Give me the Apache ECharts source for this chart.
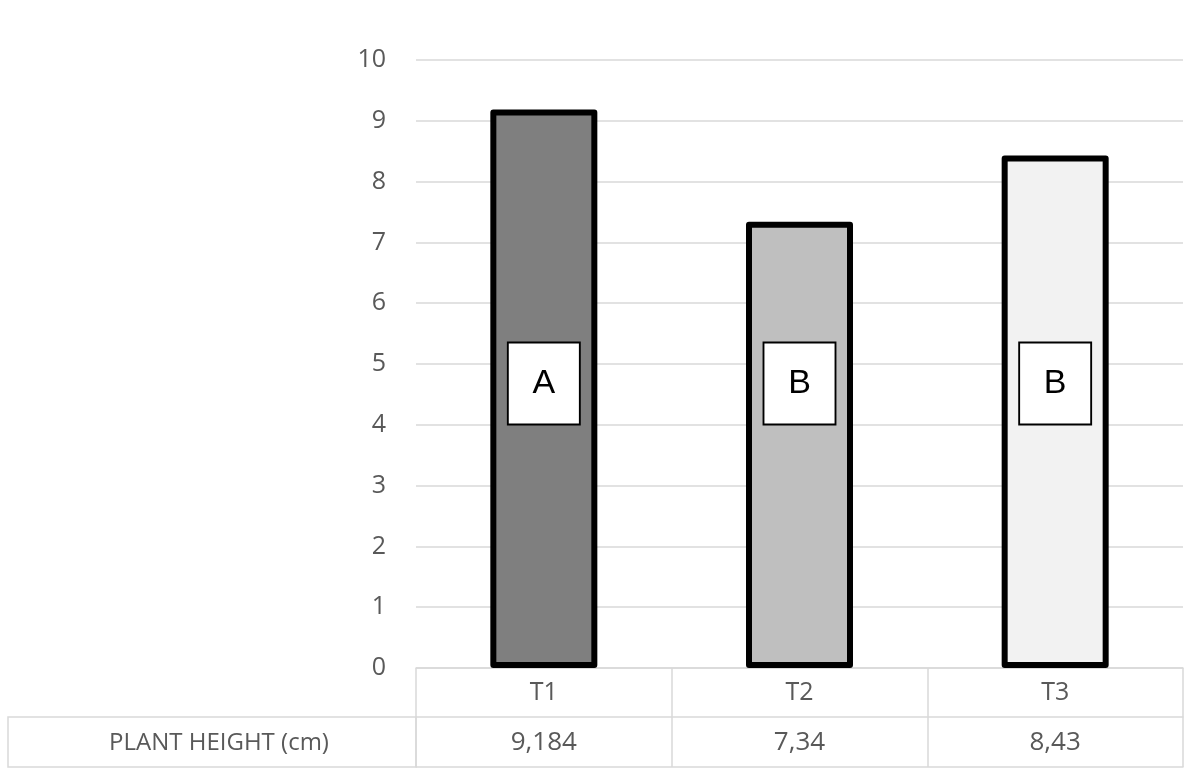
<!DOCTYPE html>
<html>
<head>
<meta charset="utf-8">
<script src="https://cdn.jsdelivr.net/npm/echarts@6/dist/echarts.min.js"></script>
<style>
html,body{margin:0;padding:0;background:#fff;}
#chart{width:1196px;height:776px;}
</style>
</head>
<body>
<div id="chart"></div>
<script>
const categories = ['T1', 'T2', 'T3'];
const plantHeight = [9.184, 7.34, 8.43];
const groupLetters = ['A', 'B', 'B'];
const barColors = ['#7f7f7f', '#bfbfbf', '#f2f2f2'];
const rowLabel = 'PLANT HEIGHT (cm)';
const yTicks = { min: 0, max: 10, interval: 1 };

const LETTER_BOX_Y = 4.68;
const FONT = '"Open Sans", sans-serif';
const TEXT_COLOR = '#595959';
const LINE_COLOR = '#d9d9d9';

const tableValues = plantHeight.map(v => String(v).replace('.', ','));

const chart = echarts.init(document.getElementById('chart'));
chart.setOption({
  animation: false,
  backgroundColor: '#fff',
  grid: { left: 416, right: 13, top: 60, bottom: 108 },
  xAxis: [
    {
      type: 'category', data: categories, position: 'bottom',
      axisLine: { show: true, lineStyle: { color: LINE_COLOR, width: 1.5 } },
      axisTick: { show: true, length: 99, lineStyle: { color: LINE_COLOR, width: 1.5 } },
      axisLabel: { color: TEXT_COLOR, fontFamily: FONT, fontSize: 25, margin: 12 }
    },
    {
      type: 'category', data: tableValues, position: 'bottom', offset: 49,
      axisLine: { show: true, lineStyle: { color: LINE_COLOR, width: 1.5 } },
      axisTick: { show: false },
      axisLabel: { color: TEXT_COLOR, fontFamily: FONT, fontSize: 26, margin: 13 }
    },
    {
      type: 'category', data: categories, position: 'bottom', offset: 99,
      axisLine: { show: true, lineStyle: { color: LINE_COLOR, width: 1.5 } },
      axisTick: { show: false },
      axisLabel: { show: false }
    }
  ],
  yAxis: {
    type: 'value', min: yTicks.min, max: yTicks.max, interval: yTicks.interval,
    axisLine: { show: false }, axisTick: { show: false },
    axisLabel: { color: TEXT_COLOR, fontFamily: FONT, fontSize: 25, margin: 30 },
    splitLine: { lineStyle: { color: LINE_COLOR, width: 1.5 } }
  },
  graphic: [
    {
      type: 'rect', shape: { x: 8, y: 717, width: 408, height: 50 },
      style: { fill: 'none', stroke: LINE_COLOR, lineWidth: 1.5 }, z: 1
    },
    {
      type: 'text', x: 219, y: 743,
      style: { text: rowLabel, fill: TEXT_COLOR, font: '24px "Open Sans", sans-serif', align: 'center', verticalAlign: 'middle' }
    }
  ],
  series: [
    {
      type: 'bar', xAxisIndex: 0, barWidth: 107, z: 3,
      data: plantHeight.map((v, i) => ({ value: v, itemStyle: { color: barColors[i] } })),
      itemStyle: { borderColor: '#000', borderWidth: 6, borderJoin: 'round' }
    },
    {
      type: 'scatter', xAxisIndex: 0, z: 5,
      symbol: 'rect', symbolSize: [72, 82],
      data: groupLetters.map((l, i) => ({ value: [categories[i], LETTER_BOX_Y], letter: l })),
      itemStyle: { color: '#fff', borderColor: '#000', borderWidth: 2, opacity: 1 },
      label: {
        show: true, position: 'inside', color: '#000',
        fontFamily: '"Liberation Sans", Arial, sans-serif', fontSize: 34,
        formatter: p => groupLetters[p.dataIndex]
      }
    }
  ]
});
</script>
</body>
</html>
